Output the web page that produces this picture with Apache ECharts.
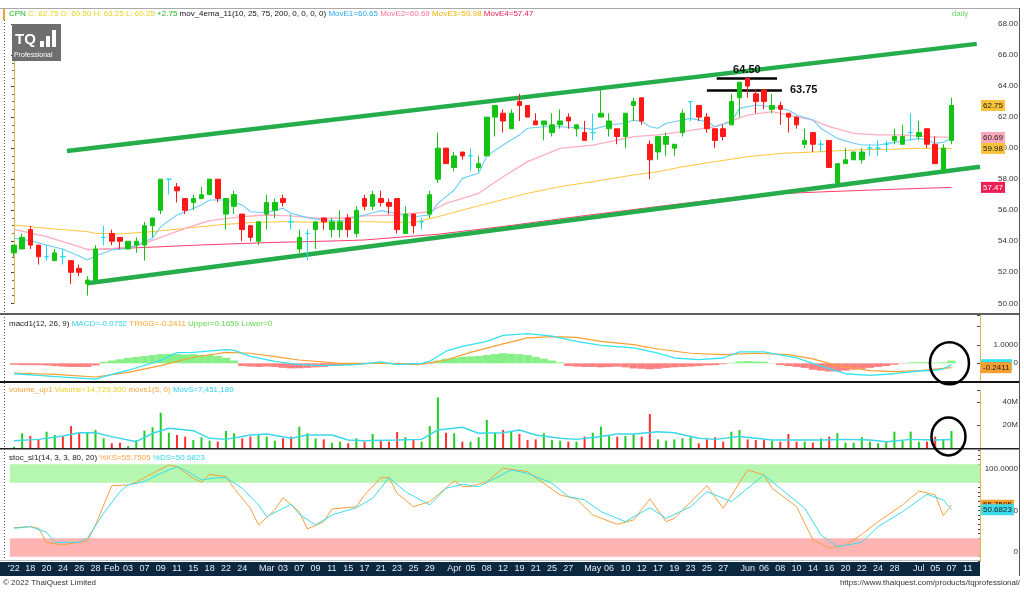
<!DOCTYPE html>
<html><head><meta charset="utf-8">
<script src="https://cdn.jsdelivr.net/npm/echarts/dist/echarts.min.js"></script>
<style>html,body{margin:0;padding:0;background:#fff}#c{width:1024px;height:606px}</style>
</head><body><div id="c"></div>
<script>
// ---------- DATA ----------
const dates = ['01/14','01/17','01/18','01/19','01/20','01/21','01/24','01/25','01/26','01/27','01/28','01/31',
'02/01','02/02','02/03','02/04','02/07','02/08','02/09','02/10','02/11','02/14','02/15','02/17','02/18','02/21','02/22','02/23','02/24','02/25','02/28',
'03/01','03/02','03/03','03/04','03/07','03/08','03/09','03/10','03/11','03/14','03/15','03/16','03/17','03/18','03/21','03/22','03/23','03/24','03/25','03/28','03/29','03/30','03/31',
'04/01','04/04','04/05','04/07','04/08','04/11','04/12','04/18','04/19','04/20','04/21','04/22','04/25','04/26','04/27','04/28','04/29',
'05/03','05/05','05/06','05/09','05/10','05/11','05/12','05/13','05/17','05/18','05/19','05/20','05/23','05/24','05/25','05/26','05/27','05/30','05/31',
'06/01','06/02','06/06','06/07','06/08','06/09','06/10','06/13','06/14','06/15','06/16','06/17','06/20','06/21','06/22','06/23','06/24','06/27','06/28','06/29','06/30',
'07/01','07/04','07/05','07/06','07/07','07/08','07/11','07/12'];
const tickDates = ['01/14','01/18','01/20','01/24','01/26','01/28','02/01','02/03','02/07','02/09','02/11','02/15','02/18','02/22','02/24','03/01','03/03','03/07','03/09','03/11','03/15','03/17','03/21','03/23','03/25','03/29','04/01','04/05','04/08','04/12','04/19','04/21','04/25','04/27','05/03','05/06','05/10','05/12','05/17','05/19','05/23','05/25','05/27','06/01','06/06','06/08','06/10','06/14','06/16','06/20','06/22','06/24','06/28','07/01','07/05','07/07','07/11'];
const tickTexts = ["'22",'18','20','24','26','28','Feb','03','07','09','11','15','18','22','24','Mar','03','07','09','11','15','17','21','23','25','29','Apr','05','08','12','19','21','25','27','May','06','10','12','17','19','23','25','27','Jun','06','08','10','14','16','20','22','24','28','Jul','05','07','11'];

// open, high, low, close
const ohlc = [
[53.25,53.75,53.00,53.75],[53.50,54.50,53.50,54.25],[54.75,55.00,53.50,53.75],[53.75,53.75,52.50,53.00],[53.00,53.75,52.75,53.00],
[52.75,53.50,52.75,53.25],[53.00,53.50,52.50,53.00],[52.75,52.75,51.25,52.00],[52.25,52.50,51.75,52.00],[51.25,51.75,50.50,51.50],
[51.50,53.75,51.50,53.50],[54.25,55.00,53.75,54.25],[54.50,54.75,53.75,54.00],[54.25,54.25,53.50,54.00],[53.50,54.00,53.50,54.00],
[53.75,54.25,53.25,54.00],[53.75,55.25,52.75,55.00],[55.00,55.50,54.25,55.50],[56.00,58.00,55.75,58.00],[58.00,58.00,57.00,58.00],
[57.50,57.75,56.50,57.25],[56.75,56.75,55.75,56.00],[56.50,57.00,56.00,56.75],[56.75,57.50,56.75,57.00],[57.00,58.00,57.00,58.00],
[58.00,58.00,56.50,56.75],[55.75,56.75,54.75,56.75],[56.25,57.25,55.75,57.00],[55.75,55.75,54.00,54.75],[55.00,55.00,54.00,54.25],
[54.00,55.25,53.75,55.25],[55.75,57.00,54.75,56.50],[56.00,56.75,55.50,56.50],[56.75,57.00,56.25,56.50],[55.25,55.75,54.75,55.25],
[53.50,54.75,53.25,54.25],[54.50,54.75,52.75,54.50],[54.75,55.25,53.50,55.25],[55.50,55.50,54.75,55.25],[54.75,55.50,54.25,55.25],
[54.75,56.00,54.25,55.25],[55.50,55.75,54.25,54.75],[54.50,56.25,54.25,56.00],[56.75,57.00,56.00,56.25],[56.25,57.25,56.00,57.00],
[56.75,57.25,56.25,56.50],[56.50,56.75,55.75,56.25],[56.75,56.75,54.50,54.75],[54.50,56.25,54.50,55.75],[55.75,55.75,54.50,55.00],
[55.25,55.50,54.75,55.25],[55.75,57.25,55.50,57.00],[58.00,61.00,57.75,60.00],[60.00,60.00,59.00,59.00],[58.75,59.75,58.50,59.50],
[59.75,59.75,59.25,59.50],[59.50,60.00,58.50,59.50],[58.75,59.50,58.50,59.00],[59.50,62.00,59.50,62.00],[62.00,62.75,60.75,62.75],
[62.25,62.50,61.00,61.75],[61.25,62.50,61.25,62.25],[63.00,63.50,61.75,62.75],[62.75,62.75,62.00,62.00],[61.75,62.25,61.50,61.50],
[61.50,61.75,60.50,61.75],[61.00,62.25,60.75,61.50],[61.50,62.50,61.25,61.75],[62.00,62.25,61.25,61.75],[61.25,61.50,60.75,61.50],
[61.00,61.75,60.50,60.50],[61.00,62.25,60.50,61.00],[62.00,63.75,62.00,62.25],[61.25,62.25,60.75,61.75],[61.25,61.25,60.25,60.75],
[60.75,62.25,60.00,62.25],[62.75,63.25,61.75,63.00],[63.25,63.25,61.50,61.75],[60.25,60.50,58.00,59.25],[59.75,60.75,59.25,60.75],
[60.25,61.00,59.50,60.75],[60.00,60.25,59.50,60.25],[61.00,62.50,60.75,62.25],[63.00,63.00,61.75,63.00],[62.75,62.75,61.75,62.00],
[62.00,62.25,61.00,61.25],[61.25,61.25,60.00,60.50],[61.25,61.50,60.50,60.75],[61.50,63.50,61.50,63.00],[63.25,64.25,62.00,64.25],
[64.50,64.50,63.25,64.00],[63.50,63.75,62.25,63.00],[63.75,63.75,62.50,63.00],[62.50,63.50,62.25,62.75],[62.75,63.00,61.50,62.50],
[62.25,62.25,61.00,62.00],[62.00,62.00,61.25,61.50],[60.25,61.25,60.00,60.50],[61.00,61.00,59.75,60.25],[60.25,60.50,59.75,60.25],
[60.50,60.50,58.75,58.75],[57.75,59.00,57.75,59.00],[59.00,60.00,59.00,59.25],[59.25,59.75,59.25,59.75],[59.25,60.00,59.00,59.75],
[60.00,60.25,59.50,60.00],[60.00,60.50,59.50,60.00],[60.25,60.50,59.75,60.25],[60.50,61.25,60.25,60.75],[60.25,61.50,60.25,60.75],
[61.00,62.25,60.50,61.00],[60.75,61.75,60.50,61.00],[61.25,61.25,60.00,60.25],[60.25,60.75,59.00,59.00],[58.50,60.25,58.50,60.00],
[60.50,63.25,60.25,62.75]];

// moving averages: [candle index, value]
const movE1 = [[0,54.19],[2,54.04],[4,53.76],[6,53.48],[8,53.05],[9,52.79],[10,53.05],[12,53.44],[14,53.54],[15,53.76],[17,54.19],[18,54.94],[20,55.69],[21,55.9],[23,56.34],[24,56.66],[26,56.66],[28,56.34],[29,55.9],[31,55.84],[33,56.12],[34,55.8],[36,55.52],[38,55.35],[40,55.3],[43,55.69],[45,55.97],[47,55.8],[49,55.58],[51,55.69],[52,56.44],[54,57.3],[55,58.05],[57,58.38],[58,59.5],[60,60.2],[62,60.85],[63,61.28],[65,61.38],[67,61.38],[70,61.28],[71,61.21],[73,61.49],[75,61.6],[76,61.81],[77,61.71],[78,61.38],[79,61.28],[80,61.6],[81,61.7],[83,61.92],[85,61.7],[86,61.38],[88,61.7],[89,62.56],[91,62.78],[93,62.67],[95,62.46],[96,62.13],[98,61.81],[99,61.27],[101,60.63],[103,60.31],[104,60.2],[106,60.2],[108,60.37],[109,60.46],[111,60.63],[112,60.52],[113,60.31],[114,60.37],[115,60.65]];
const movE2 = [[0,54.77],[4,54.3],[9,53.48],[11,53.48],[15,53.69],[18,54.25],[21,54.83],[24,55.33],[28,55.58],[31,55.69],[34,55.63],[37,55.48],[40,55.48],[43,55.63],[47,55.69],[51,55.9],[53,56.44],[57,57.09],[60,58.16],[63,59.13],[67,59.99],[71,60.2],[74,60.52],[76,60.74],[79,60.85],[82,61.06],[86,61.38],[90,62.13],[93,62.35],[95,62.13],[98,61.81],[100,61.38],[103,60.95],[106,60.85],[109,60.85],[112,60.74],[115,60.69]];
const movE3 = [[0,55.05],[4,54.83],[9,54.62],[10,54.51],[13,54.47],[17,54.62],[21,54.83],[25,55.05],[29,55.2],[33,55.26],[40,55.2],[43,55.26],[49,55.2],[52,55.58],[55,56.01],[59,56.55],[63,57.09],[67,57.52],[71,57.84],[76,58.27],[79,58.48],[82,58.8],[86,59.13],[90,59.45],[94,59.66],[99,59.77],[103,59.88],[107,59.92],[111,59.99],[115,59.98]];
const movE4 = [[9,53.45],[16,53.6],[23,53.76],[31,53.91],[40,54.03],[43,54.08],[47,54.25],[52,54.45],[60,54.95],[70,55.65],[80,56.3],[91,57.0],[100,57.2],[108,57.35],[115,57.47]];

// trend lines & price marks: [candle position, price]
const upperTrend = [[6.5,59.81],[118.1,66.72]];
const lowerTrend = [[9.0,51.29],[118.5,58.8]];
const mark6450 = [[86.2,64.5],[93.6,64.5]];
const mark6375 = [[85.0,63.75],[94.2,63.75]];

// MACD
const macdHist = [-0.08,-0.1,-0.1,-0.1,-0.12,-0.15,-0.18,-0.2,-0.2,-0.2,-0.12,0.08,0.15,0.22,0.3,0.35,0.4,0.45,0.5,0.52,
0.5,0.48,0.5,0.45,0.45,0.4,0.3,0.15,-0.15,-0.18,-0.2,-0.18,-0.2,-0.25,-0.28,-0.27,-0.25,-0.22,-0.2,-0.15,
-0.12,-0.1,-0.08,-0.05,-0.03,0.02,0.03,-0.02,-0.05,-0.1,-0.05,-0.03,0.15,0.25,0.3,0.35,0.38,0.4,0.45,0.5,
0.55,0.52,0.5,0.45,0.35,0.25,0.15,0.05,-0.15,-0.18,-0.2,-0.2,-0.22,-0.2,-0.18,-0.22,-0.28,-0.3,-0.33,-0.3,
-0.25,-0.22,-0.2,-0.18,-0.15,-0.12,-0.1,-0.05,0.03,0.1,0.12,0.1,0.08,0.02,-0.1,-0.15,-0.2,-0.25,-0.35,-0.4,
-0.45,-0.45,-0.4,-0.35,-0.3,-0.25,-0.2,-0.15,-0.08,-0.02,0.05,0.06,0.06,0.04,0.05,0.15];
const macdLine = [[0,-0.57],[3,-0.66],[6,-0.75],[10,-0.87],[12,-0.6],[14,-0.38],[18,0.16],[20,0.58],[22,0.6],[26,0.75],[27,0.71],[29,0.38],[32,0.11],[35,-0.07],[38,-0.13],[42,-0.07],[45,0.08],[47,-0.07],[50,0],[51,0.11],[53,0.66],[55,0.93],[58,1.2],[60,1.53],[63,1.62],[66,1.48],[69,1.2],[72,0.98],[76,0.84],[79,0.56],[81,0.29],[84,0.2],[87,0.29],[89,0.62],[92,0.62],[96,0.29],[99,-0.16],[102,-0.57],[105,-0.66],[108,-0.57],[111,-0.42],[113,-0.38],[114,-0.3],[115,-0.0752]];
const signalLine = [[0,-0.53],[5,-0.6],[10,-0.75],[14,-0.5],[18,-0.13],[22,0.33],[26,0.6],[29,0.55],[32,0.36],[35,0.18],[40,0],[45,0],[50,-0.05],[53,0.18],[56,0.6],[60,1.06],[63,1.39],[66,1.46],[69,1.42],[72,1.2],[76,1.02],[79,0.78],[83,0.55],[87,0.47],[91,0.55],[95,0.47],[98,0.24],[101,-0.13],[105,-0.4],[108,-0.46],[111,-0.4],[115,-0.2411]];

// volume (millions) and its 5-day average
const volume = [1.0,12.8,10.4,7.5,14.2,11.3,9.9,19.1,12.8,13.3,15.7,8.4,4.1,4.6,1.7,6.9,15.1,18.0,30.7,13.3,
11.3,9.9,6.9,9.3,6.4,5.5,14.8,12.8,8.4,9.9,11.3,9.9,6.4,8.4,9.9,18.6,12.8,8.4,7.5,4.6,
5.5,4.1,8.4,5.5,12.2,6.1,5.5,13.9,9.3,7.5,5.5,19.1,44.0,13.3,12.8,5.5,5.5,9.3,24.4,13.3,
15.7,14.2,12.2,6.9,7.5,12.8,6.9,6.4,5.5,5.5,9.9,13.3,18.6,10.4,9.9,10.4,12.2,9.9,29.6,7.5,
6.4,7.5,8.4,10.4,4.1,7.5,9.3,5.5,14.2,15.7,7.5,6.9,6.9,6.4,5.5,12.2,5.5,5.5,4.6,8.4,
9.9,12.8,4.6,4.6,9.3,5.5,4.1,5.5,14.2,6.4,14.2,5.5,5.5,9.9,6.9,14.73];
const movS = [[0,6.4],[3,7.5],[6,10.4],[8,13.3],[10,13.3],[12,9.9],[15,5.5],[17,12.8],[19,17.1],[22,15.1],[24,8.4],[26,7.5],[29,11.3],[31,12.2],[34,8.4],[36,11.3],[39,11.3],[41,6.9],[43,6.4],[47,6.9],[50,7.5],[52,15.7],[55,18.0],[57,12.8],[60,13.3],[62,15.7],[64,11.3],[67,8.4],[69,7.5],[72,9.9],[74,12.2],[76,12.2],[79,14.2],[81,13.3],[84,8.4],[86,7.5],[89,9.9],[91,8.4],[93,6.9],[96,6.9],[99,6.9],[102,7.5],[105,6.9],[107,5.5],[110,7.5],[113,6.9],[115,7.45]];

// stochastic
const stochK = [[0,31.4],[2,32.5],[3,30.7],[4,15.5],[6,12.6],[7,14.4],[9,16.9],[10,34.3],[12,76.9],[14,77.6],[15,80.5],[17,90.2],[19,99.2],[20,97.4],[22,84.8],[23,80.5],[24,89.2],[26,86.6],[27,74],[29,52.3],[30,34.3],[32,50.5],[33,63.9],[35,48.7],[36,29.9],[38,37.9],[39,51.6],[42,54.1],[43,66.8],[45,85.5],[46,85.5],[47,68.6],[49,54.1],[51,59.6],[54,81.9],[55,75.8],[56,75.8],[58,81.2],[60,95.6],[63,92],[64,85.5],[67,66.8],[69,62.5],[71,45.1],[74,35],[76,39.7],[78,62.5],[80,37.9],[81,41.5],[85,76.9],[87,52.3],[90,93.8],[92,88.4],[93,74],[96,54.1],[98,18.3],[100,9.3],[102,12.6],[104,24.2],[106,37.9],[109,56],[111,71.1],[113,66.8],[114,44.4],[115,55.75]];
const stochD = [[0,30.7],[2,32.5],[4,26.4],[5,15.5],[8,15.5],[9,19.9],[11,47],[13,70.4],[14,77.6],[16,81.2],[18,90.2],[20,97.4],[21,93.8],[23,83],[25,85.5],[26,85.5],[28,74],[30,56],[31,43.3],[34,56.7],[35,45.9],[37,34.3],[39,45.1],[42,53],[44,63.2],[46,85.5],[48,70.4],[51,56],[53,74],[55,78.3],[57,75.8],[59,84.8],[61,93.8],[63,90.2],[66,79.4],[68,65],[70,61.4],[72,48.7],[75,37.9],[78,53],[80,41.5],[83,54.1],[85,70.4],[88,59.6],[92,88.4],[94,74],[97,52.3],[99,23.4],[101,10.8],[104,15.5],[106,32.5],[109,48.7],[112,67.5],[114,61.4],[115,50.68]];

// ---------- CHART ----------
const FONT = "'Liberation Sans', Arial, sans-serif";
const UP = '#14c414', DN = '#ff1818', DOJI = '#17dcef';
const GL = 9.9, GR = 44;
const chart = echarts.init(document.getElementById('c'), null, {renderer:'canvas'});

const candleData = ohlc.map(([o,h,l,c]) => {
  const it = {value:[o,c,l,h]};
  if (o === c) it.itemStyle = {color:DOJI,color0:DOJI,borderColor:DOJI,borderColor0:DOJI,borderColorDoji:DOJI};
  return it;
});
const volData = volume.map((v,i) => {
  const [o,,,c] = ohlc[i];
  let up = c > o ? true : c < o ? false : !(i > 0 && c < ohlc[i-1][3]);
  return {value:v, itemStyle:{color: up ? '#22cc22' : '#ff3030'}};
});
const tickMap = {}; tickDates.forEach((d,i)=> tickMap[d] = tickTexts[i]);

const gridBase = {left:GL, right:GR, containLabel:false, outerBoundsMode:'none', show:false};
const hiddenX = i => ({type:'category', gridIndex:i, data:dates, boundaryGap:true, show:false});
const rightY = (i, extra) => Object.assign({type:'value', gridIndex:i, position:'right', scale:false,
  splitLine:{show:false},
  axisLine:{show:true, lineStyle:{color:'#e0b74f', width:1}},
  axisTick:{show:true, inside:true, length:3, lineStyle:{color:'#444'}},
  axisLabel:{fontSize:8, fontFamily:FONT, color:'#333', margin:38, align:'right'}}, extra);

const option = {
  animation:false,
  backgroundColor:'#ffffff',
  grid:[
    Object.assign({top:24, height:279.3}, gridBase),
    Object.assign({top:315.7, height:65.9}, gridBase),
    Object.assign({top:390.5, height:57.5}, gridBase),
    Object.assign({top:450.4, height:110.9}, gridBase)
  ],
  xAxis:[
    hiddenX(0), hiddenX(1), hiddenX(2),
    {type:'category', gridIndex:3, data:dates, boundaryGap:true, z:20,
      axisLine:{show:false}, axisTick:{show:false}, splitLine:{show:false},
      axisLabel:{show:true, interval:(idx,val)=> tickMap[val] !== undefined,
        formatter:val => tickMap[val] || '', color:'#e3e9f0', fontSize:9, fontFamily:FONT, margin:3}},
    {type:'value', gridIndex:0, min:-0.5, max:dates.length-0.5, show:false}
  ],
  yAxis:[
    rightY(0, {min:50, max:68, interval:2, minorTick:{show:true, splitNumber:4, length:2, lineStyle:{color:'#666'}},
      axisLabel:{fontSize:8, fontFamily:FONT, color:'#333', margin:38, align:'right', formatter:v=>v.toFixed(2)}}),
    rightY(1, {min:-1, max:2.6, interval:1,
      axisLabel:{fontSize:8, fontFamily:FONT, color:'#333', margin:38, align:'right', formatter:v=> v===1?'1.0000':(v===0?'0':'')}}),
    rightY(2, {min:0, max:50, interval:20,
      axisLabel:{fontSize:8, fontFamily:FONT, color:'#333', margin:38, align:'right', formatter:v=> (v===20||v===40)? v+'M':''}}),
    rightY(3, {min:-5, max:115, interval:5, axisTick:{show:true, inside:true, length:2, lineStyle:{color:'#444'}},
      axisLabel:{fontSize:8, fontFamily:FONT, color:'#333', margin:38, align:'right',
        formatter:v=> v===100?'{t|100.0000}':(v===50?'50.0000':(v===0?'{b|0}':'')),
        rich:{t:{padding:[9,0,0,0], fontSize:8, fontFamily:FONT, color:'#333'}, b:{padding:[0,0,9,0], fontSize:8, fontFamily:FONT, color:'#333'}}}})
  ],
  series:[
    {type:'candlestick', xAxisIndex:0, yAxisIndex:0, data:candleData, barWidth:5, z:5,
      itemStyle:{color:UP, color0:DN, borderColor:UP, borderColor0:DN, borderWidth:1}},
    {type:'line', xAxisIndex:0, yAxisIndex:0, data:movE4, showSymbol:false, z:3, lineStyle:{color:'#ff3d6e', width:1}},
    {type:'line', xAxisIndex:0, yAxisIndex:0, data:movE3, showSymbol:false, z:3, lineStyle:{color:'#ffc63a', width:1}},
    {type:'line', xAxisIndex:0, yAxisIndex:0, data:movE2, showSymbol:false, z:3, lineStyle:{color:'#ffadc0', width:1.3}},
    {type:'line', xAxisIndex:0, yAxisIndex:0, data:movE1, showSymbol:false, z:3, lineStyle:{color:'#6ccdf7', width:1.1}},
    {type:'line', xAxisIndex:4, yAxisIndex:0, data:upperTrend, showSymbol:false, z:4, lineStyle:{color:'#26ad4b', width:4.5}},
    {type:'line', xAxisIndex:4, yAxisIndex:0, data:lowerTrend, showSymbol:false, z:4, lineStyle:{color:'#26ad4b', width:4.5}},
    {type:'line', xAxisIndex:4, yAxisIndex:0, data:[], z:6,
      markLine:{symbol:'none', silent:true, animation:false,
        lineStyle:{color:'#000', width:2.5, type:'solid'},
        data:[
          [{coord:mark6450[0], label:{show:true, position:'middle', formatter:mark6450[0][1].toFixed(2), distance:3}}, {coord:mark6450[1]}],
          [{coord:mark6375[0], label:{show:true, position:'end', formatter:mark6375[0][1].toFixed(2), distance:8}}, {coord:mark6375[1]}]
        ],
        label:{color:'#111', fontSize:11, fontWeight:'bold', fontFamily:FONT}}},
    {type:'bar', xAxisIndex:1, yAxisIndex:1, data:macdHist, barCategoryGap:'0%', barWidth:'100%',
      itemStyle:{color:p=> p.value>=0 ? '#86f086' : '#ff8080'}},
    {type:'line', xAxisIndex:1, yAxisIndex:1, data:signalLine, showSymbol:false, lineStyle:{color:'#f7a030', width:1.2}},
    {type:'line', xAxisIndex:1, yAxisIndex:1, data:macdLine, showSymbol:false, lineStyle:{color:'#35e3f0', width:1.3}},
    {type:'bar', xAxisIndex:2, yAxisIndex:2, data:volData, barWidth:2},
    {type:'line', xAxisIndex:2, yAxisIndex:2, data:movS, showSymbol:false, lineStyle:{color:'#3ad8e8', width:1.5}},
    {type:'line', xAxisIndex:3, yAxisIndex:3, data:stochK, showSymbol:false, lineStyle:{color:'#f7a040', width:1},
      markArea:{silent:true, data:[
        [{yAxis:80, itemStyle:{color:'#b5f6b0'}},{yAxis:100}],
        [{yAxis:0, itemStyle:{color:'#ffb4b4'}},{yAxis:20}]
      ]}},
    {type:'line', xAxisIndex:3, yAxisIndex:3, data:stochD, showSymbol:false, lineStyle:{color:'#3cdcec', width:1}}
  ]
};
chart.setOption(option);

// ---------- decorations, headers, value tags ----------
const py = (axis, v) => chart.convertToPixel({yAxisIndex:axis}, v);
const px = i => chart.convertToPixel({xAxisIndex:0}, dates[i]);
const last = ohlc[ohlc.length-1];
const prevClose = ohlc[ohlc.length-2][3];
const f2 = v => v.toFixed(2);
const lastOf = a => a[a.length-1][1];

function tag(y, text, bg, fg, w){
  return {type:'text', x:981, y:y, z:60, style:{text:text, font:'8px '+FONT, fill:fg, backgroundColor:bg,
    padding:[2,2,1,2], width:w, verticalAlign:'middle', align:'left'}};
}
function hline(y, color, w, x1, x2){ return {type:'line', z:40, shape:{x1:x1||0, y1:y, x2:x2||1020, y2:y}, style:{stroke:color, lineWidth:w}}; }
function header(y, parts){
  const rich = {}; let text = '';
  parts.forEach((p,i)=>{ rich['s'+i] = {fill:p[1], font:'8px '+FONT}; text += '{s'+i+'|'+p[0]+'} '; });
  return {type:'text', x:9, y:y, z:50, style:{text:text, rich:rich, font:'8px '+FONT, verticalAlign:'middle'}};
}
const lastX = px(115);
const graphics = [
  {type:'rect', z:-1, shape:{x:0, y:562, width:980, height:14}, style:{fill:'#0c2840'}},
  hline(560.5, '#b8bec6', 1, 0, 980),
  hline(8.5, '#a9a9a9', 1, 0, 1020),
  hline(314, '#2a2a2a', 1.6),
  hline(382, '#111', 2),
  hline(448.8, '#222', 1.6),
  {type:'line', z:40, shape:{x1:4.5, y1:20, x2:4.5, y2:560}, style:{stroke:'#555', lineWidth:1, lineDash:[1,2]}},
  {type:'line', z:40, shape:{x1:1019.5, y1:8, x2:1019.5, y2:576}, style:{stroke:'#555', lineWidth:1}},
  {type:'rect', z:40, shape:{x:3, y:9, width:2, height:11}, style:{fill:'#f0a030'}},
  // logo
  {type:'rect', z:40, shape:{x:12, y:24, width:49, height:37}, style:{fill:'#6e6e6e'}},
  {type:'text', z:41, x:15, y:40, style:{text:'TQ', font:'bold 15px '+FONT, fill:'#fff', verticalAlign:'middle'}},
  {type:'rect', z:41, shape:{x:40, y:41, width:4, height:6}, style:{fill:'#fff'}},
  {type:'rect', z:41, shape:{x:46, y:36, width:4, height:11}, style:{fill:'#fff'}},
  {type:'rect', z:41, shape:{x:52, y:30, width:4, height:17}, style:{fill:'#fff'}},
  {type:'text', z:41, x:14, y:55, style:{text:'Professional', font:'7px '+FONT, fill:'#fff', verticalAlign:'middle'}},
  // headers
  header(14, [['CPN','#1cb81c'],['C: '+f2(last[3])+' O: '+f2(last[0])+' H: '+f2(last[1])+' L: '+f2(last[2]),'#ead21c'],
    ['+'+f2(last[3]-prevClose),'#1cb81c'],['mov_4ema_11(10, 25, 75, 200, 0, 0, 0, 0)','#111'],
    ['MovE1='+f2(lastOf(movE1)),'#27a9ee'],['MovE2='+f2(lastOf(movE2)),'#ff6f95'],['MovE3='+f2(lastOf(movE3)),'#f2b300'],['MovE4='+f2(lastOf(movE4)),'#ea1a50']]),
  {type:'text', z:50, x:960, y:14, style:{text:'daily', font:'8px '+FONT, fill:'#66d766', verticalAlign:'middle', align:'center'}},
  header(324, [['macd1(12, 26, 9)','#222'],['MACD='+lastOf(macdLine).toFixed(4),'#2ed2ee'],['TRIGG='+lastOf(signalLine).toFixed(4),'#ffa62b'],['Upper=0.1659','#5fd94a'],['Lower=0','#5fd94a']]),
  header(390, [['volume_up1','#f2a43a'],['Volume=14,729,300','#eed21e'],['movs1(5, 0)','#f2a43a'],['MovS=7,451,180','#2fd0ec']]),
  header(458, [['stoc_sl1(14, 3, 3, 80, 20)','#222'],['%KS=55.7505','#ffa347'],['%DS=50.6823','#33d6ee']]),
  // footer
  {type:'text', z:50, x:3, y:583, style:{text:'© 2022 ThaiQuest Limited', font:'8px '+FONT, fill:'#333', verticalAlign:'middle'}},
  {type:'text', z:50, x:1020, y:583, style:{text:'https://www.thaiquest.com/products/tqprofessional/', font:'8px '+FONT, fill:'#333', verticalAlign:'middle', align:'right'}},
  // value tags
  tag(py(0, lastOf(movE4)), f2(lastOf(movE4)), '#ee1d52', '#fff'),
  tag(py(0, lastOf(movE1)), f2(lastOf(movE1)), '#7fd3f7', '#222'),
  tag(py(0, lastOf(movE3)), f2(lastOf(movE3)), '#f8c23a', '#222'),
  tag(py(0, lastOf(movE2)), f2(lastOf(movE2)), '#f9a9bb', '#222'),
  tag(py(0, last[3]), f2(last[3]), '#f8c23a', '#222'),
  tag(py(1, lastOf(macdLine)), lastOf(macdLine).toFixed(4), '#35e3f0', '#222'),
  tag(py(1, lastOf(signalLine)), lastOf(signalLine).toFixed(4), '#f7a030', '#222'),
  tag(py(3, 55.7505), '55.7505', '#f7a030', '#222'),
  tag(py(3, 50.6823), '50.6823', '#3cdcec', '#222'),
  // annotation circles
  {type:'ellipse', z:70, shape:{cx:lastX-2, cy:py(1,0), rx:19.5, ry:21}, style:{fill:'none', stroke:'#000', lineWidth:2.5}},
  {type:'ellipse', z:70, shape:{cx:lastX-3, cy:py(2,10), rx:17, ry:19}, style:{fill:'none', stroke:'#000', lineWidth:2.5}}
];
chart.setOption({graphic:graphics});
</script>
</body></html>
